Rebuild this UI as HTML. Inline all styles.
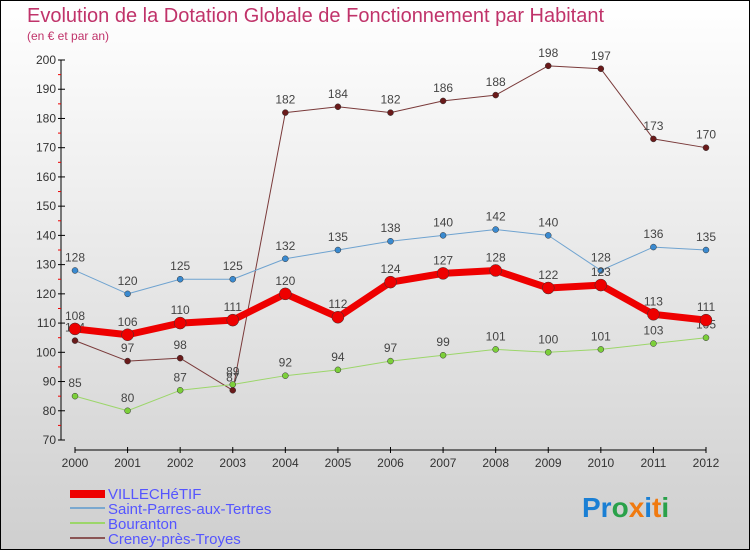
<!DOCTYPE html>
<html><head><meta charset="utf-8"><style>
body{margin:0}
#c{width:750px;height:550px;position:relative;box-sizing:border-box;border:1px solid #000;background:linear-gradient(#fff,#cfcfcf);font-family:"Liberation Sans",sans-serif;overflow:hidden}
</style></head><body>
<div id="c">
<svg id="s" width="750" height="550" style="position:absolute;left:-1px;top:-1px">
<text x="27" y="22" font-size="20" fill="#c0336a">Evolution de la Dotation Globale de Fonctionnement par Habitant</text>
<text x="27" y="40" font-size="12" fill="#c0336a">(en € et par an)</text>
<g id="g"></g>
<g>
<rect x="70" y="490" width="35" height="8" fill="#e00"/>
<text x="108" y="499" font-size="15" fill="#55f">VILLECHéTIF</text>
<rect x="70" y="507" width="35" height="2" fill="#7aa8cf"/>
<text x="108" y="514" font-size="15" fill="#55f">Saint-Parres-aux-Tertres</text>
<rect x="70" y="522" width="35" height="2" fill="#9cd66a"/>
<text x="108" y="529" font-size="15" fill="#55f">Bouranton</text>
<rect x="70" y="537" width="35" height="2" fill="#8a5555"/>
<text x="108" y="544" font-size="15" fill="#55f">Creney-près-Troyes</text>
</g>
<text x="582" y="517" font-size="28" font-weight="bold"><tspan fill="#1a7fd4">Pr</tspan><tspan fill="#2aa14a">o</tspan><tspan fill="#f07a10">x</tspan><tspan fill="#1a7fd4">i</tspan><tspan fill="#f07a10">t</tspan><tspan fill="#2aa14a">i</tspan></text>
</svg>
</div>
<script>
const years=[2000,2001,2002,2003,2004,2005,2006,2007,2008,2009,2010,2011,2012];
const villechetif=[108,106,110,111,120,112,124,127,128,122,123,113,111];
const saintParres=[128,120,125,125,132,135,138,140,142,140,128,136,135];
const bouranton=[85,80,87,89,92,94,97,99,101,100,101,103,105];
const creney=[104,97,98,87,182,184,182,186,188,198,197,173,170];
const yTicks=[70,80,90,100,110,120,130,140,150,160,170,180,190,200];
const NS="http://www.w3.org/2000/svg";
const g=document.getElementById('g');
const xs=i=>75+i*(706-75)/12;
const ys=v=>440-(v-70)*(380/130);
function el(t,a){const e=document.createElementNS(NS,t);for(const k in a)e.setAttribute(k,a[k]);g.appendChild(e);return e;}
let ax=el('line',{x1:61,y1:60,x2:61,y2:440,stroke:'#000','stroke-width':1});


yTicks.forEach(v=>{const y=ys(v);
 el('line',{x1:58,y1:y,x2:65,y2:y,stroke:'#000'});
 el('line',{x1:58,y1:y-14.6,x2:61,y2:y-14.6,stroke:v<200?'#e00':'none'});
 const t=el('text',{x:56,y:y+4,'font-size':12,fill:'#333','text-anchor':'end'});t.textContent=v;
 
 
});
let xa=el('line',{x1:75,y1:450,x2:706,y2:450,stroke:'#000'});


years.forEach((yr,i)=>{const x=xs(i);
 el('line',{x1:x,y1:447,x2:x,y2:453,stroke:'#000'});
 const t=el('text',{x:x,y:467,'font-size':12,fill:'#333','text-anchor':'middle'});t.textContent=yr;
 
 
});
function series(d,name,color,w,r,dot){
 const p=el('polyline',{points:d.map((v,i)=>xs(i)+','+ys(v)).join(' '),fill:'none',stroke:color,'stroke-width':w,'stroke-linejoin':'round'});
 
 
 d.forEach((v,i)=>{const c=el('circle',{cx:xs(i),cy:ys(v),r:r,fill:dot,stroke:'#333','stroke-width':0.5});
  
  
  const t=el('text',{x:xs(i),y:ys(v)-9,'font-size':12,fill:'#444','text-anchor':'middle'});t.textContent=v;
  
  
 });
}
series(creney,'creney','#7a3a3a',1,3,'#6a1a1a');
series(bouranton,'bouranton','#9cd66a',1,3,'#7ccf3a');
series(saintParres,'saint-parres','#6fa3d0',1,3,'#3a8ad0');
series(villechetif,'villechetif','#e00',7,6,'#e00');
</script>
</body></html>
